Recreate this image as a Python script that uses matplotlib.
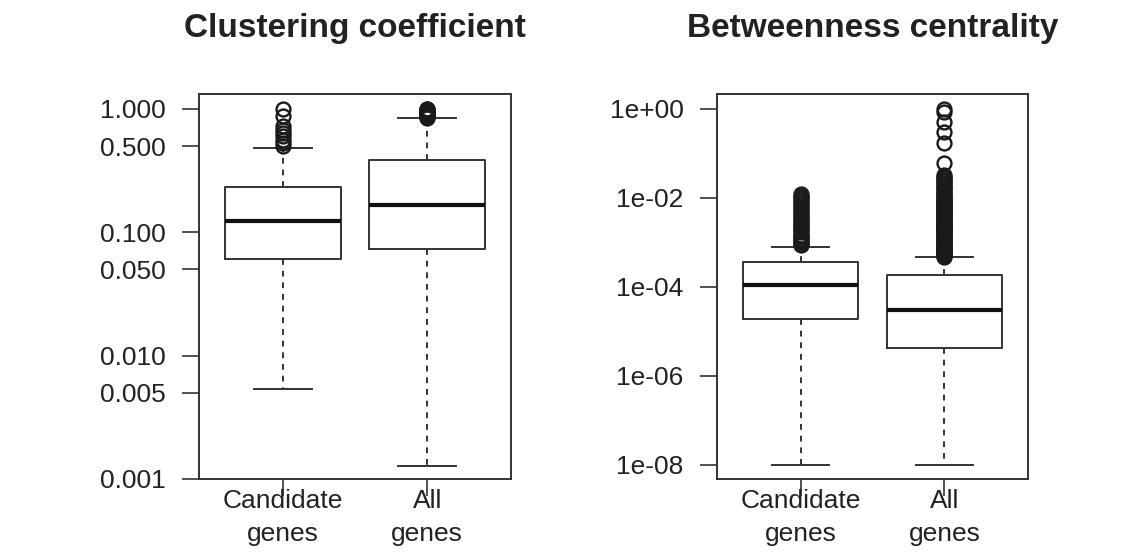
import numpy as np
import matplotlib
matplotlib.use("Agg")
import matplotlib.pyplot as plt

plt.rcParams["font.family"] = ["Liberation Sans", "DejaVu Sans"]

# ---- data ----
groups = ["Candidate\ngenes", "All\ngenes"]

# clustering coefficient (log scale)
cc_whislo = [0.0054, 0.00127]
cc_q1 = [0.061, 0.073]
cc_med = [0.124, 0.167]
cc_q3 = [0.233, 0.386]
cc_whishi = [0.483, 0.84]
cc_fliers_cand = [1.0, 0.87, 0.72, 0.68, 0.64, 0.60, 0.56, 0.53, 0.50]
cc_fliers_all = [1.0, 0.99, 0.98, 0.97, 0.96, 0.95, 0.94, 0.93, 0.92, 0.91,
                 0.90, 0.89, 0.88, 0.87, 0.86, 0.85]
cc_ticks = [0.001, 0.005, 0.010, 0.050, 0.100, 0.500, 1.000]
cc_ticklabels = ["0.001", "0.005", "0.010", "0.050", "0.100", "0.500", "1.000"]

# betweenness centrality (log scale)
bc_whislo = [1e-8, 1e-8]
bc_q1 = [1.9e-5, 4.3e-6]
bc_med = [1.11e-4, 3.0e-5]
bc_q3 = [3.6e-4, 1.86e-4]
bc_whishi = [7.9e-4, 4.7e-4]
bc_fliers_cand = [0.012, 0.011, 0.0098, 0.0088, 0.0080, 0.0072, 0.0065, 0.0058,
                  0.0052, 0.0047, 0.0042, 0.0038, 0.0034, 0.0031, 0.0028, 0.0025,
                  0.0023, 0.0021, 0.0019, 0.0017, 0.0015, 0.0014, 0.0013, 0.0012,
                  0.0011, 0.0010, 0.00093, 0.00086]
bc_fliers_all = [1.0, 0.85, 0.5, 0.3, 0.17, 0.06,
                 0.032, 0.030, 0.028, 0.026, 0.024, 0.022, 0.020, 0.018, 0.017,
                 0.016, 0.014, 0.013, 0.0125, 0.011, 0.0105, 0.0098, 0.0092,
                 0.0088, 0.0082, 0.0078, 0.0073, 0.0070, 0.0066, 0.0062, 0.0058,
                 0.0055, 0.0052, 0.0049, 0.0046, 0.0044, 0.0041, 0.0039, 0.0037,
                 0.0035, 0.0033, 0.0031, 0.0029, 0.0028, 0.0026, 0.0025, 0.0023,
                 0.0022, 0.0021, 0.0020, 0.0019, 0.0018, 0.0017, 0.0016, 0.0015,
                 0.0014, 0.0013, 0.00125, 0.0012, 0.0011, 0.00105, 0.0010,
                 0.00095, 0.00090, 0.00085, 0.00080, 0.00076, 0.00072, 0.00068,
                 0.00065, 0.00062, 0.00058, 0.00055, 0.00052, 0.00050, 0.00048]
bc_ticks = [1e-8, 1e-6, 1e-4, 1e-2, 1e0]
bc_ticklabels = ["1e-08", "1e-06", "1e-04", "1e-02", "1e+00"]

LINE = "#333333"
TEXT = "#222222"


def stats(whislo, q1, med, q3, whishi, fliers):
    out = []
    for i in range(len(med)):
        out.append(dict(whislo=whislo[i], q1=q1[i], med=med[i], q3=q3[i],
                        whishi=whishi[i], fliers=fliers[i]))
    return out


def draw(ax, st, ticks, ticklabels, ylim, title):
    ax.bxp(st, positions=[1, 2], widths=0.8, showfliers=True,
           boxprops=dict(color=LINE, lw=1.4),
           whiskerprops=dict(color=LINE, lw=1.4, ls=(0, (3, 3))),
           capprops=dict(color=LINE, lw=1.4),
           capwidths=0.4,
           medianprops=dict(color="#111111", lw=3.0, solid_capstyle="butt"),
           flierprops=dict(marker="o", markersize=10, markerfacecolor="none",
                           markeredgecolor="#1a1a1a", markeredgewidth=1.7))
    ax.set_yscale("log")
    ax.set_ylim(*ylim)
    ax.set_xlim(0.42, 2.58)
    ax.set_yticks(ticks)
    ax.set_yticklabels(ticklabels)
    ax.minorticks_off()
    ax.set_xticks([1, 2])
    ax.set_xticklabels(groups, linespacing=1.5)
    ax.tick_params(axis="both", length=12, width=1.2, color=LINE, labelsize=19,
                   labelcolor=TEXT)
    ax.tick_params(axis="y", pad=12)
    ax.tick_params(axis="x", pad=-5)
    for s in ax.spines.values():
        s.set_color(LINE)
        s.set_linewidth(1.4)
    bb = ax.get_position()
    ax.figure.text((bb.x0 + bb.x1) / 2, 1 - 29 / 554, title, ha="center",
                   va="center", fontsize=24, fontweight="bold", color=TEXT)


fig = plt.figure(figsize=(11.4, 5.54), dpi=100)
ax1 = fig.add_axes([199 / 1140, 75 / 554, 312 / 1140, 385 / 554])
ax2 = fig.add_axes([717 / 1140, 75 / 554, 311 / 1140, 385 / 554])

draw(ax1, stats(cc_whislo, cc_q1, cc_med, cc_q3, cc_whishi,
                [cc_fliers_cand, cc_fliers_all]),
     cc_ticks, cc_ticklabels, (0.001, 1.32), "Clustering coefficient")
draw(ax2, stats(bc_whislo, bc_q1, bc_med, bc_q3, bc_whishi,
                [bc_fliers_cand, bc_fliers_all]),
     bc_ticks, bc_ticklabels, (4.84e-9, 2.17), "Betweenness centrality")

fig.savefig("out.png", dpi=100)
